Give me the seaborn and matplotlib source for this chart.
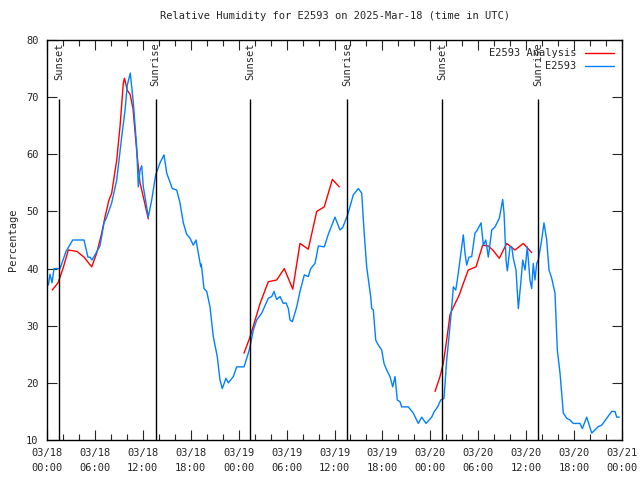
import pandas as pd
import matplotlib
matplotlib.use('Agg')
import matplotlib.pyplot as plt
import matplotlib.dates as mdates
import seaborn as sns

# time in hours after 2025-03-18 00:00 UTC
obs_hours = [0.16, 0.38, 0.63, 0.88, 1.63, 2.38, 3.22, 4.63, 5.13, 5.38, 5.63, 6.26, 6.64, 7.14,
             7.48, 8.1, 8.73, 9.35, 9.77, 10.05, 10.43, 10.81, 11.23, 11.43, 11.65, 11.86, 12.06,
             12.4, 12.68, 13.11, 13.61, 14.15, 14.65, 14.99, 15.69, 16.24, 16.65, 17.07, 17.49,
             17.91, 18.32, 18.66, 18.95, 19.25, 19.32, 19.66, 20.0, 20.41, 20.82, 21.32, 21.66,
             21.95, 22.41, 22.7, 23.33, 23.75, 24.67, 25.21, 25.42, 25.83, 26.26, 26.88, 27.71,
             28.14, 28.42, 28.76, 29.18, 29.59, 29.93, 30.22, 30.43, 30.72, 31.27, 31.68, 32.22,
             32.72, 33.02, 33.56, 33.98, 34.72, 35.22, 36.06, 36.69, 37.03, 37.65, 38.35, 38.98,
             39.41, 39.69, 40.03, 40.53, 40.66, 40.86, 41.16, 41.49, 41.91, 42.2, 42.54, 42.95,
             43.29, 43.58, 43.86, 44.2, 44.41, 45.24, 45.87, 46.49, 46.92, 47.46, 48.17, 48.5,
             48.92, 49.3, 49.71, 50.05, 50.38, 50.68, 50.88, 51.18, 51.38, 51.71, 51.93, 52.13,
             52.34, 52.55, 52.84, 53.18, 53.59, 53.88, 54.35, 54.64, 54.94, 55.26, 55.69, 56.1,
             56.64, 57.06, 57.23, 57.48, 57.64, 57.98, 58.19, 58.39, 58.73, 59.02, 59.32, 59.57,
             59.86, 60.14, 60.48, 60.69, 60.89, 61.1, 61.32, 61.52, 61.94, 62.23, 62.57, 62.86,
             63.2, 63.61, 63.9, 64.24, 64.65, 65.08, 65.49, 65.9, 66.74, 67.03, 67.58, 68.21,
             69.03, 69.46, 70.09, 70.71, 71.12, 71.34, 71.66]
obs_rh = [37.1, 39, 37.5, 40, 40, 43, 45, 45, 42, 42, 41.5, 43, 44, 48,
          49, 51.5, 55.5, 63, 67.7, 72.1, 74.2, 69, 61.3, 54.3, 57.2, 58, 54.3,
          51.5, 49, 52, 56.4, 58.5, 59.9, 56.7, 54, 53.75, 51.5, 48, 46,
          45.3, 44.1, 45, 42.7, 40.3, 40.8, 36.5, 36, 33.3, 28.1, 24.6, 20.5,
          19, 20.8, 20, 21.1, 22.8, 22.8, 25.2, 26.3, 29.2, 31, 32.2, 34.8,
          35.1, 36, 34.6, 35.1, 33.9, 34, 33, 31, 30.7, 33.3, 36, 38.9,
          38.6, 40, 40.9, 43.95, 43.8, 46, 49, 46.75, 47.2, 49.4, 52.9, 54,
          53.2, 46.75, 40.3, 35.1, 33, 32.75, 27.5, 26.6, 25.75, 23.4, 22.25, 21.1,
          19.3, 21.1, 17, 16.7, 15.8, 15.8, 14.7, 12.9, 14, 12.9, 14, 15,
          15.8, 17, 17.3, 24, 28.7, 33.3, 36.8, 36.25, 38, 41.5, 43.8, 45.9,
          42.7, 40.6, 42, 42.1, 46.2, 46.75, 48, 44.1, 45, 42, 46.75, 47.3,
          48.8, 52.1, 49.7, 41.5, 39.6, 43.8, 43.8, 41.8, 39.75, 33, 37.4, 41.5,
          39.75, 43.8, 38, 36.5, 40.9, 38, 40.9, 41.5, 45, 48, 45, 39.75,
          38.3, 35.7, 25.75, 21.7, 14.7, 13.8, 13.5, 12.9, 12.9, 12, 14, 11.2,
          12.35, 12.6, 13.8, 15, 15, 14, 14]

# analysis, three separate runs
ana1_hours = [0.66, 1.38, 2.0, 2.67, 3.76, 4.63, 5.6, 6.22, 6.85, 7.26, 7.76, 8.1, 8.73, 9.14,
              9.55, 9.7, 10.05, 10.4, 10.77, 11.27, 11.65, 12.15, 12.68]
ana1_rh = [36.25, 37.5, 40, 43.25, 43, 42, 40.3, 42.7, 46.2, 49, 52, 53.2, 59, 64.8,
           72.4, 73.3, 71.2, 70.5, 68, 60, 55, 52, 48.7]
ana2_hours = [24.67, 25.42, 26.68, 27.71, 28.76, 29.71, 30.77, 31.68, 32.72, 33.77, 34.72,
              35.73, 36.6]
ana2_rh = [25.2, 28, 33.9, 37.7, 38, 40, 36.4, 44.4, 43.4, 50, 50.8, 55.6, 54.3]
ana3_hours = [48.59, 49.21, 49.62, 50.05, 50.46, 50.8, 51.63, 52.13, 52.75, 53.72, 54.56,
              55.26, 55.81, 56.64, 57.56, 58.6, 59.64, 60.69]
ana3_rh = [18.5, 21.1, 23.4, 27.5, 31.9, 33, 35.4, 37.4, 39.75, 40.3, 44.1, 43.95, 43.25,
           41.8, 44.4, 43.25, 44.4, 42.8]

sun_hours = [1.54, 13.6, 25.45, 37.6, 49.5, 61.5]
sun_labels = ['Sunset', 'Sunrise', 'Sunset', 'Sunrise', 'Sunset', 'Sunrise']

start = pd.Timestamp('2025-03-18 00:00')
fs = 7.5


def to_time(hours):
    return start + pd.to_timedelta(hours, unit='h')


sns.set_theme(style='ticks')
plt.rcParams['font.family'] = ['DejaVu Sans Mono']

fig = plt.figure(figsize=(6.4, 4.8), dpi=100)
ax = fig.add_axes([47 / 640, 40 / 480, 575 / 640, 400 / 480])

for i, (h, v) in enumerate([(ana1_hours, ana1_rh), (ana2_hours, ana2_rh), (ana3_hours, ana3_rh)]):
    seg = pd.DataFrame({'time': to_time(h), 'rh': v})
    sns.lineplot(data=seg, x='time', y='rh', ax=ax, color='#ff0000', linewidth=1.0,
                 label='E2593 Analysis' if i == 0 else None)

obs = pd.DataFrame({'time': to_time(obs_hours), 'rh': obs_rh})
sns.lineplot(data=obs, x='time', y='rh', ax=ax, color='#0080ff', linewidth=1.0, label='E2593')

for h, lab in zip(sun_hours, sun_labels):
    t = to_time(h)
    ax.vlines(t, 10, 69.7, color='black', linewidth=1.0)
    ax.text(t, 79.6, lab, rotation=90, ha='center', va='top', fontsize=fs)

ax.set_xlim(start, start + pd.Timedelta(hours=72))
ax.set_ylim(10, 80)
ax.set_yticks(range(10, 81, 10))
ax.xaxis.set_major_locator(mdates.HourLocator(byhour=range(0, 24, 6)))
ax.xaxis.set_minor_locator(mdates.HourLocator(interval=2))
ax.xaxis.set_major_formatter(mdates.DateFormatter('%m/%d\n%H:%M'))
ax.tick_params(which='major', direction='in', length=7, width=0.8, top=True, right=True,
               pad=6, labelsize=fs)
ax.tick_params(which='minor', direction='in', length=4, width=0.8, top=True)
ax.tick_params(axis='y', which='minor', left=False, right=False)
for sp in ax.spines.values():
    sp.set_linewidth(1.0)
    sp.set_color('black')

ax.set_xlabel('')
ax.set_ylabel('Percentage', labelpad=6, fontsize=fs)
ax.set_title('Relative Humidity for E2593 on 2025-Mar-18 (time in UTC)', pad=15, fontsize=fs)

ax.legend(loc='upper right', frameon=False, markerfirst=False, handlelength=2.8,
          handletextpad=0.8, labelspacing=0.3, borderaxespad=0.4, fontsize=fs)

fig.canvas.draw()
for lbl in ax.get_xticklabels():
    lbl.set_linespacing(1.6)

fig.savefig('out.png', dpi=100)
